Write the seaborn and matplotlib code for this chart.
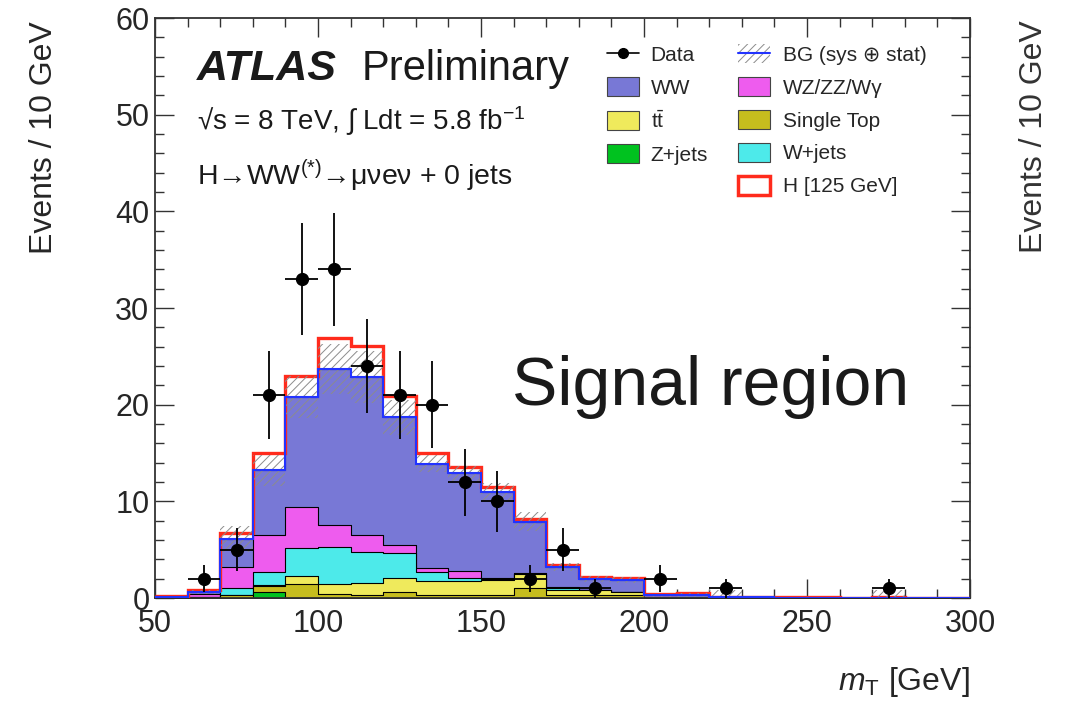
import numpy as np
import pandas as pd
import seaborn as sns
import matplotlib.pyplot as plt
from matplotlib.patches import Patch
from matplotlib.lines import Line2D
from matplotlib.ticker import MultipleLocator

# bins of m_T [GeV]
edges = np.arange(50, 301, 10)
centers = edges[:-1] + 5

# expected events per bin
zjets = [0, 0, 0, 0.65, 0.05, 0, 0, 0, 0, 0, 0, 0, 0, 0, 0, 0, 0, 0, 0, 0, 0, 0, 0, 0, 0]
single_top = [0, 0.03, 0.3, 0.62, 1.36, 0.38, 0.3, 0.65, 0.3, 0.31, 0.31, 1.07, 0.31,
              0.3, 0.3, 0, 0, 0, 0, 0, 0, 0, 0, 0, 0]
ttbar = [0, 0.05, 0.05, 0.05, 0.89, 1.03, 1.22, 1.45, 1.5, 1.49, 1.55, 1.38, 0.52,
         0.53, 0.35, 0.02, 0.05, 0, 0, 0, 0, 0, 0, 0, 0]
wjets = [0, 0, 0.65, 1.4, 2.84, 3.89, 3.28, 2.6, 0.92, 0.23, 0.14, 0.05, 0.17,
         0, 0, 0, 0, 0, 0, 0, 0, 0, 0, 0, 0]
wz_zz_wg = [0.05, 0.3, 2.24, 3.78, 4.31, 2.25, 1.7, 0.8, 0.42, 0.77, 0.1, 0.05, 0.17,
            0, 0, 0, 0, 0.02, 0, 0, 0, 0, 0, 0, 0]
ww = [0.1, 0.27, 2.86, 6.7, 11.35, 16.15, 16.4, 13.2, 10.76, 10.1, 8.9, 5.35, 2.03,
      1.17, 1.25, 0.28, 0.3, 0.1, 0.1, 0.05, 0.05, 0.03, 0.05, 0.03, 0.03]
higgs = [0.05, 0.15, 0.6, 1.8, 2.2, 3.2, 3.2, 2.2, 1.1, 0.7, 0.5, 0.3, 0.2,
         0.2, 0.15, 0.15, 0.15, 0.03, 0.02, 0.02, 0.02, 0.01, 0.02, 0.01, 0.01]
bg_unc = [0.1, 0.2, 1.3, 1.6, 2.2, 2.6, 2.7, 1.8, 0.9, 0.8, 0.9, 1.0, 0.4,
          0.3, 0.3, 0.15, 0.2, 0.7, 0.1, 0.05, 0.05, 0.05, 0.75, 0.05, 0.05]
data = [0, 2, 5, 21, 33, 34, 24, 21, 20, 12, 10, 2, 5, 1, 0, 2, 0, 1, 0, 0, 0, 0, 1, 0, 0]

# stack order, bottom to top
stack = [
    ("Z+jets", zjets, "#00c21f"),
    ("Single Top", single_top, "#c6bd1e"),
    ("ttbar", ttbar, "#efea5c"),
    ("W+jets", wjets, "#4deaea"),
    ("WZ/ZZ/Wg", wz_zz_wg, "#ee5cee"),
    ("WW", ww, "#7878d6"),
]
col = {name: c for name, _, c in stack}
c_blue = "#2233ff"
c_red = "#ff2b1c"

sns.set_theme(style="ticks")
plt.rcParams["font.family"] = ["Liberation Sans", "DejaVu Sans"]
plt.rcParams["mathtext.fontset"] = "custom"
plt.rcParams["mathtext.rm"] = "Liberation Sans"
plt.rcParams["mathtext.it"] = "Liberation Sans:italic"
plt.rcParams["mathtext.bf"] = "Liberation Sans:bold"
plt.rcParams["hatch.linewidth"] = 0.7

fig = plt.figure(figsize=(10.72, 7.01), dpi=100)
ax = fig.add_axes([0.1446, 0.1469, 0.7603, 0.8274])

# stacked histogram: paint cumulative sums from the top layer down
cum = np.cumsum(np.array([s[1] for s in stack], dtype=float), axis=0)
df = pd.DataFrame({"mT": np.tile(centers, len(stack)).astype(float),
                   "events": cum.ravel(),
                   "process": np.repeat([s[0] for s in stack], len(centers))})
bin_list = [float(e) for e in edges]
for name, _, color in stack[::-1]:
    sub = df[df["process"] == name]
    sns.histplot(data=sub, x="mT", weights="events", bins=bin_list, element="step",
                 fill=True, color=color, alpha=1, edgecolor="black", linewidth=0.8,
                 ax=ax)

bg = cum[-1]
sig = bg + np.array(higgs)
unc = np.array(bg_unc)
ax.stairs(sig, edges, baseline=bg, fill=True, color="white", zorder=3)
ax.stairs(sig, edges, baseline=None, color=c_red, lw=2.4, zorder=4)
ax.stairs(bg + unc, edges, baseline=np.clip(bg - unc, 0, None), fill=True,
          facecolor="none", edgecolor="#8c8c8c", hatch="////", lw=0, zorder=5)
ax.stairs(bg, edges, baseline=None, color=c_blue, lw=1.5, zorder=5)

d = np.array(data, dtype=float)
m = d > 0
ax.errorbar(centers[m], d[m], xerr=5, yerr=np.sqrt(d[m]), fmt="o", color="black",
            markersize=8.5, elinewidth=1.3, capsize=0, zorder=10)

ax.set_xlim(50, 300)
ax.set_ylim(0, 60)
ax.xaxis.set_major_locator(MultipleLocator(50))
ax.xaxis.set_minor_locator(MultipleLocator(10))
ax.yaxis.set_major_locator(MultipleLocator(10))
ax.yaxis.set_minor_locator(MultipleLocator(2))
ax.tick_params(which="both", direction="in", top=True, right=True, color="#333333")
ax.tick_params(which="major", length=14, width=1, labelsize=22)
ax.tick_params(which="minor", length=6.5, width=1)
ax.tick_params(axis="x", pad=8)
ax.tick_params(axis="y", pad=4)
for s in ax.spines.values():
    s.set_linewidth(1.3)
    s.set_color("#333333")

ax.set_xlabel(r"$m_{\mathrm{T}}$ [GeV]", fontsize=23, loc="right")
ax.xaxis.set_label_coords(1.0, -0.115)
ax.set_ylabel("Events / 10 GeV", fontsize=23, loc="top")
ax.yaxis.set_label_coords(-0.118, 0.995)

txt = "#1a1a1a"
fig.text(0.1838, 0.8859, "ATLAS", fontsize=31, fontweight="bold", fontstyle="italic",
         color=txt, va="baseline")
fig.text(0.3377, 0.8859, "Preliminary", fontsize=30, color=txt, va="baseline")
fig.text(0.1838, 0.8146, "\u221as = 8 TeV, \u222b Ldt = 5.8 fb$^{-1}$", fontsize=20,
         color=txt, va="baseline")
fig.text(0.1838, 0.7361, "H\u2192WW$^{(*)}$\u2192\u03bc\u03bde\u03bd + 0 jets",
         fontsize=20.5, color=txt, va="baseline")
fig.text(0.4776, 0.4223, "Signal region", fontsize=49, color=txt, va="baseline")
fig.text(0.965, 0.971, "Events / 10 GeV", fontsize=23, rotation=90,
         ha="center", va="top", color="#333333")

# legend in two columns
data_h = Line2D([], [], color="black", marker="o", markersize=7, lw=1.2)
def box(c):
    return Patch(facecolor=c, edgecolor="#444444", lw=0.8)
bg_h = (Patch(facecolor="white", edgecolor="#8c8c8c", hatch="////", lw=0),
        Line2D([], [], color=c_blue, lw=1.5))
h_h = Patch(facecolor="white", edgecolor=c_red, lw=2.5)

leg_kw = dict(frameon=False, fontsize=15, borderpad=0, borderaxespad=0,
              handlelength=1.55, handleheight=1.05, labelspacing=0.58,
              bbox_transform=fig.transFigure, loc="upper left")
leg1 = ax.legend([data_h, box(col["WW"]), box(col["ttbar"]), box(col["Z+jets"])],
                 ["Data", "WW", r"t$\bar{\mathrm{t}}$", "Z+jets"],
                 bbox_to_anchor=(0.566, 0.937), handletextpad=0.55, **leg_kw)
ax.add_artist(leg1)
ax.legend([bg_h, box(col["WZ/ZZ/Wg"]), box(col["Single Top"]), box(col["W+jets"]), h_h],
          ["BG (sys \u2295 stat)", "WZ/ZZ/W\u03b3", "Single Top", "W+jets", "H [125 GeV]"],
          bbox_to_anchor=(0.688, 0.937), handletextpad=0.65, **leg_kw)

fig.savefig("out.png", dpi=100, facecolor="white")
